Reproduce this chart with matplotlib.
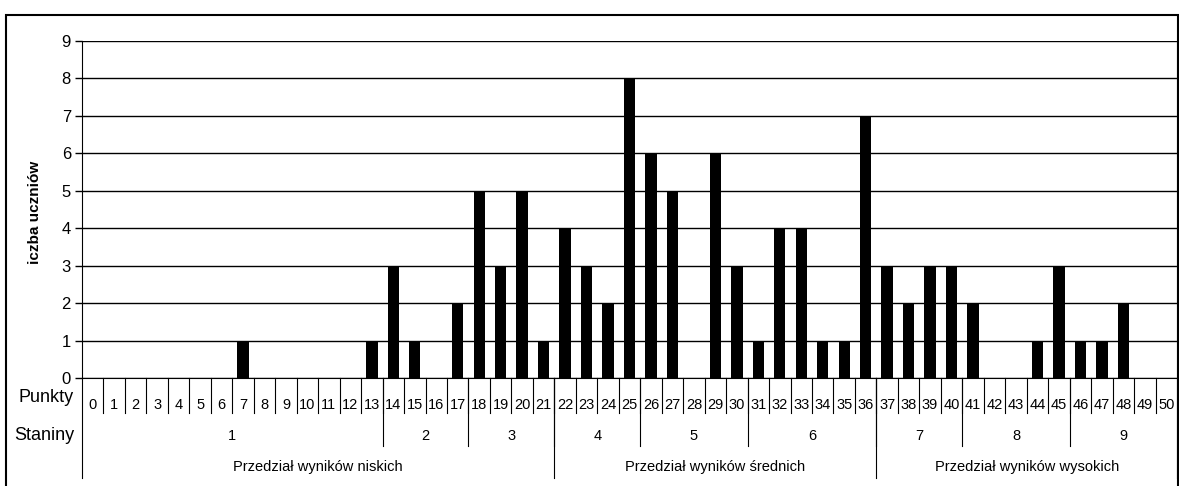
import numpy as np
import matplotlib
matplotlib.use('Agg')
import matplotlib.pyplot as plt
from matplotlib.patches import Rectangle
from matplotlib.transforms import blended_transform_factory

# Dane: liczba uczniów dla każdej liczby punktów (0-50)
punkty = list(range(0, 51))
liczba_uczniow = [0, 0, 0, 0, 0, 0, 0, 1, 0, 0,
                  0, 0, 0, 1, 3, 1, 0, 2, 5, 3,
                  5, 1, 4, 3, 2, 8, 6, 5, 0, 6,
                  3, 1, 4, 4, 1, 1, 7, 3, 2, 3,
                  3, 2, 0, 0, 1, 3, 1, 1, 2, 0, 0]

# Staniny: (etykieta, pierwszy punkt, ostatni punkt)
staniny = ['1', '2', '3', '4', '5', '6', '7', '8', '9']
staniny_od = [0, 14, 18, 22, 26, 31, 37, 41, 46]
staniny_do = [13, 17, 21, 25, 30, 36, 40, 45, 50]

# Przedziały wyników
przedzialy = ['Przedział wyników niskich', 'Przedział wyników średnich', 'Przedział wyników wysokich']
przedzialy_od = [0, 22, 37]
przedzialy_do = [21, 36, 50]

W, H = 1179, 486
plt.rcParams['font.family'] = ['Liberation Sans', 'DejaVu Sans']

fig = plt.figure(figsize=(W / 100, H / 100), dpi=100)
ax = fig.add_axes([82 / W, 1 - 378 / H, 1095 / W, (378 - 41) / H])

x = np.arange(len(punkty))
ax.bar(x, liczba_uczniow, width=0.53, color='black', zorder=3)

ax.set_xlim(-0.5, len(punkty) - 0.5)
ax.set_ylim(0, 9)
ax.set_yticks(range(0, 10))
ax.tick_params(axis='y', labelsize=12, length=5, width=1, pad=3)
ax.set_xticks([])
ax.yaxis.grid(True, color='black', linewidth=1)
ax.set_axisbelow(True)

ax.spines['top'].set_visible(False)
ax.spines['right'].set_color('#808080')
ax.spines['left'].set_color('black')
ax.spines['bottom'].set_color('black')

fig.text(35 / W, 1 - 212 / H, 'iczba uczniów', rotation=90, ha='center', va='center',
         fontsize=11, fontweight='bold')

# Tabela pod osią X
tr = blended_transform_factory(ax.transData, fig.transFigure)


def fy(y):
    return 1 - y / H


y0 = 378
# linie między punktami
for i in range(1, len(punkty)):
    ax.plot([i - 0.5, i - 0.5], [fy(y0), fy(413)], color='black', lw=0.8,
            transform=tr, clip_on=False)
for i, p in enumerate(punkty):
    ax.text(i, fy(405), str(p), transform=tr, ha='center', va='center',
            fontsize=10.5)

# granice stanin
for a in staniny_od[1:]:
    ax.plot([a - 0.5, a - 0.5], [fy(y0), fy(446)], color='black', lw=0.8,
            transform=tr, clip_on=False)
for lab, a, b in zip(staniny, staniny_od, staniny_do):
    ax.text((a + b) / 2, fy(436), lab, transform=tr, ha='center', va='center', fontsize=10.5)

# granice przedziałów
for a in przedzialy_od + [len(punkty)]:
    ax.plot([a - 0.5, a - 0.5], [fy(y0), fy(478)], color='black', lw=0.8,
            transform=tr, clip_on=False)
for lab, a, b in zip(przedzialy, przedzialy_od, przedzialy_do):
    ax.text((a + b) / 2, fy(467), lab, transform=tr, ha='center', va='center', fontsize=10.5)

fig.text(74 / W, fy(397), 'Punkty', ha='right', va='center', fontsize=13)
fig.text(74 / W, fy(435), 'Staniny', ha='right', va='center', fontsize=13)

# ramka wokół całości (dolna krawędź poza obrazem)
fig.patches.append(Rectangle((6 / W, fy(495)), (1178 - 6) / W, (495 - 15) / H,
                             transform=fig.transFigure, fill=False,
                             edgecolor='black', linewidth=1.5))

fig.savefig('out.png', dpi=100)
